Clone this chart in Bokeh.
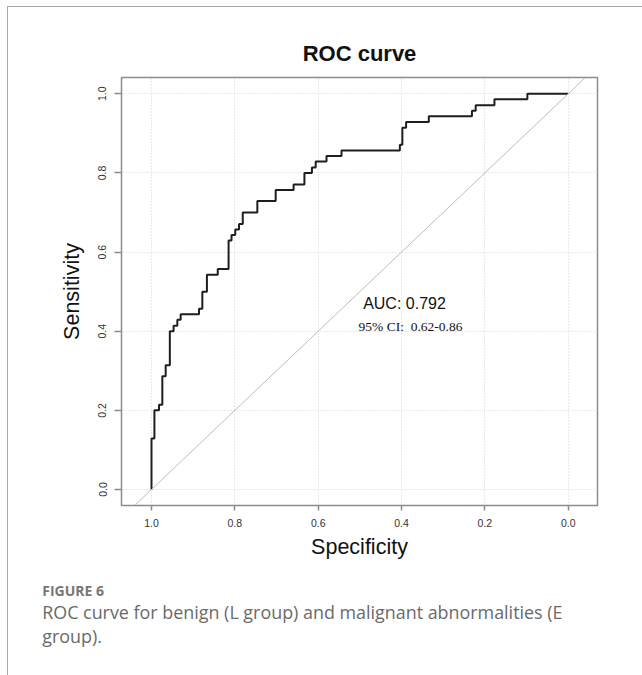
from bokeh.plotting import figure
from bokeh.models import (Range1d, FixedTicker, NumeralTickFormatter, Label, Slope,
                          Title, InlineStyleSheet)
from bokeh.embed import file_html
from bokeh.resources import INLINE

# ---------------- data ----------------
specificity = [1.0, 1.0, 0.993, 0.993, 0.982, 0.982, 0.974, 0.974, 0.966, 0.966,
               0.956, 0.956, 0.947, 0.947, 0.938, 0.938, 0.930, 0.930, 0.886, 0.886,
               0.878, 0.878, 0.867, 0.867, 0.841, 0.841, 0.815, 0.815, 0.808, 0.808,
               0.799, 0.799, 0.790, 0.790, 0.781, 0.781, 0.746, 0.746, 0.702, 0.702,
               0.659, 0.659, 0.633, 0.633, 0.615, 0.615, 0.606, 0.606, 0.580, 0.580,
               0.544, 0.544, 0.404, 0.404, 0.398, 0.398, 0.389, 0.389, 0.3345, 0.3345,
               0.231, 0.231, 0.222, 0.222, 0.177, 0.177, 0.098, 0.098, 0.0]
sensitivity = [0.0, 0.129, 0.129, 0.200, 0.200, 0.214, 0.214, 0.286, 0.286, 0.314,
               0.314, 0.400, 0.400, 0.414, 0.414, 0.429, 0.429, 0.443, 0.443, 0.457,
               0.457, 0.500, 0.500, 0.543, 0.543, 0.557, 0.557, 0.629, 0.629, 0.643,
               0.643, 0.657, 0.657, 0.671, 0.671, 0.700, 0.700, 0.729, 0.729, 0.757,
               0.757, 0.771, 0.771, 0.800, 0.800, 0.814, 0.814, 0.829, 0.829, 0.843,
               0.843, 0.857, 0.857, 0.871, 0.871, 0.914, 0.914, 0.929, 0.929, 0.943,
               0.943, 0.957, 0.957, 0.971, 0.971, 0.986, 0.986, 1.0, 1.0]
tick_values = [0.0, 0.2, 0.4, 0.6, 0.8, 1.0]
auc_text = "AUC: 0.792"
ci_text = "95% CI:\u00a0 0.62-0.86"
title_text = "ROC curve"
x_label = "Specificity"
y_label = "Sensitivity"
fig_label = "FIGURE 6"
caption_lines = ["ROC curve for benign (L group) and malignant abnormalities (E",
                 "group)."]

# ---------------- layout helpers ----------------
W, H = 642, 675
FL, FR, FT, FB = 121, 597, 77, 505          # frame edges in pixels
X0_PX, X_UNIT = 567.7, 416.7                # pixel of spec=0, px per unit
Y0_PX, Y_UNIT = 489.0, 395.7                # pixel of sens=0, px per unit

def dx(px):
    return (X0_PX - px) / X_UNIT

def dy(py):
    return (Y0_PX - py) / Y_UNIT

border_css = (":host::after{content:'';position:absolute;left:7px;top:6px;right:0;bottom:0;"
              "border-left:1.5px solid #a8a8a8;border-top:1.5px solid #a8a8a8;"
              "pointer-events:none;z-index:10;}")

p = figure(width=W, height=H, output_backend="svg", toolbar_location=None,
           x_range=Range1d(dx(FL), dx(FR)), y_range=Range1d(dy(FB), dy(FT)),
           min_border_left=FL, min_border_right=W - FR,
           min_border_top=FT, min_border_bottom=H - FB,
           stylesheets=[InlineStyleSheet(css=border_css)])
p.background_fill_color = "white"
p.border_fill_color = "white"
p.outline_line_color = "#8c8c8c"
p.outline_line_width = 1.5

# title
p.title.text = title_text
p.title.align = "center"
p.title.text_font = "Liberation Sans"
p.title.text_font_style = "bold"
p.title.text_font_size = "22px"
p.title.text_color = "#111111"
p.title.standoff = 24

# axes
for ax in (p.xaxis[0], p.yaxis[0]):
    ax.ticker = FixedTicker(ticks=tick_values)
    ax.formatter = NumeralTickFormatter(format="0.0")
    ax.axis_line_color = None
    ax.major_tick_line_color = "#8c8c8c"
    ax.major_tick_line_width = 1.5
    ax.major_tick_in = 0
    ax.minor_tick_line_color = None
    ax.major_label_text_font = "Liberation Sans"
    ax.major_label_text_font_size = "10.5px"
    ax.major_label_text_color = "#333333"
    ax.axis_label_text_font = "Liberation Sans"
    ax.axis_label_text_font_size = "21.5px"
    ax.axis_label_text_font_style = "normal"
    ax.axis_label_text_color = "#111111"

p.xaxis.axis_label = x_label
p.xaxis.major_tick_out = 5
p.xaxis.major_label_standoff = 8
p.xaxis.axis_label_standoff = 5

p.yaxis.axis_label = y_label
p.yaxis.major_tick_out = 7
p.yaxis.major_label_standoff = 8
p.yaxis.major_label_orientation = "vertical"
p.yaxis.axis_label_standoff = 12

# grid
for g in (p.xgrid[0], p.ygrid[0]):
    g.ticker = FixedTicker(ticks=tick_values)
    g.grid_line_color = "#d2d2d2"
    g.grid_line_dash = "1 2"
    g.grid_line_width = 1

# diagonal reference line
p.add_layout(Slope(gradient=-1, y_intercept=1, line_color="#bdbdbd", line_width=1))

# ROC curve
p.line(specificity, sensitivity, line_color="#1e1e1e", line_width=2)

# AUC texts
p.add_layout(Label(x=dx(404), y=dy(302.7), text=auc_text, text_align="center",
                   text_baseline="alphabetic", text_font="Liberation Sans",
                   text_font_size="16px", text_color="#111111"))
p.add_layout(Label(x=dx(410), y=dy(326), text=ci_text, text_align="center",
                   text_baseline="alphabetic", text_font="Liberation Serif",
                   text_font_size="13.5px", text_color="#111111"))

# caption (stacked titles below the x axis)
cap_offset = 41.7 - FL
p.add_layout(Title(text=" ", align="left", standoff=8, text_font="Open Sans",
                   text_font_size="6px"), "below")
p.add_layout(Title(text=fig_label, align="left", offset=cap_offset, standoff=-1.5,
                   text_font="Open Sans", text_font_style="bold", text_font_size="14px",
                   text_color="#777777"), "below")
p.add_layout(Title(text=caption_lines[0], align="left", offset=cap_offset, standoff=-4.5,
                   text_font="Open Sans", text_font_style="normal",
                   text_font_size="17.9px", text_color="#6a6a6a"), "below")
p.add_layout(Title(text=caption_lines[1], align="left", offset=cap_offset, standoff=0,
                   text_font="Open Sans", text_font_style="normal",
                   text_font_size="17.9px", text_color="#6a6a6a"), "below")

open("out.html", "w").write(file_html(p, INLINE))
